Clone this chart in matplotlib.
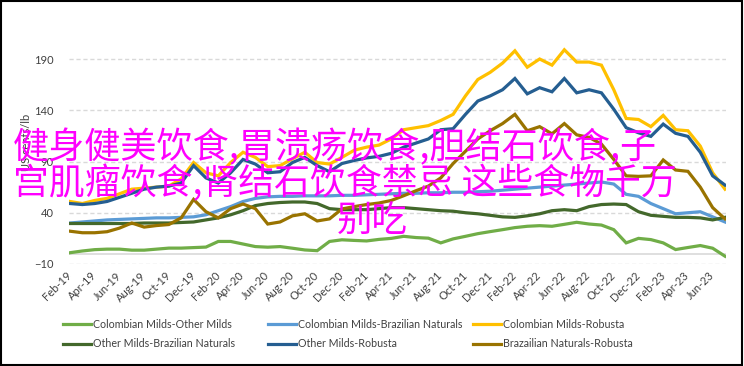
import matplotlib
matplotlib.use('Agg')
import matplotlib.pyplot as plt
import pandas as pd
from matplotlib.patches import Rectangle

# ---------------- data ----------------
months = pd.date_range('2019-02-01', periods=54, freq='MS').strftime('%b-%y').tolist()

col_other = [1, 2.7, 4, 4.5, 4.5, 3.5, 3.5, 4.5, 5.5, 5.5,
             6, 6.5, 12, 12, 9.5, 7, 6.4, 7, 5.4, 3.7,
             3, 12, 13.6, 13, 12.5, 14, 15, 17, 15.8, 15.2,
             10.6, 14.5, 17, 19.6, 21.6, 23.5, 25.5, 26.8, 27.4, 26.8,
             28.7, 30.7, 29, 28, 23.5, 10.6, 15, 13.8, 10.6, 4.1,
             6.1, 8, 5.4, -2.4]
col_braz = [30, 31, 32, 33, 33.5, 34, 34.5, 35, 35, 35.5,
            36, 38, 42, 46, 51, 54, 55.5, 56, 56, 56.5,
            56.5, 56.5, 57, 57, 57.5, 58, 58.5, 59, 59, 59.5,
            59.5, 60, 60, 60.5, 61, 62, 63, 64, 65, 66,
            67, 68, 69, 70, 68, 58, 56, 49, 44, 39,
            40, 41, 36, 31]
col_rob = [51, 49, 52, 54, 58.5, 63, 64, 65, 66, 73,
           89, 79, 76, 89, 99, 94, 85, 86, 92.6, 99,
           89, 87.5, 94, 101, 104, 106, 112, 121, 123, 125,
           130, 136, 154, 170, 177, 186, 198, 182, 190, 184,
           199, 187, 187, 184, 160, 132, 131, 124, 135, 121,
           120, 105, 79, 63]
other_braz = [29.5, 29.5, 29.5, 29.5, 29.5, 29.5, 30, 30, 30, 30.5,
              31, 33, 35, 38, 42, 47, 49, 50, 50.5, 50.5,
              49, 44, 43, 43, 43, 44, 45, 45, 44, 43,
              42, 41.5, 40, 39, 37.5, 36, 35.5, 37, 39, 42,
              43, 42, 46, 48, 48.5, 48, 41, 37.5, 36.5, 35.5,
              35.5, 35, 33, 35.5]
other_rob = [49, 48, 49, 51, 55, 59, 63, 65, 66, 69,
             86, 74, 69, 79, 92, 87.5, 79, 80, 89, 94,
             86, 80, 88, 91, 93.5, 95, 98, 104, 108, 112,
             121, 122, 136, 149, 154, 160, 171, 156, 162, 158,
             171, 157, 160, 157, 141, 123, 118, 114.5, 126.5, 117.5,
             114.5, 99, 76, 67]
braz_rob = [22, 20.5, 20.5, 21.5, 25, 30, 26, 27.5, 28.5, 35,
            53, 41, 35, 44, 48.5, 44, 29, 31, 37, 39,
            32, 34, 43.7, 46, 48, 49.5, 52, 56.6, 61.5, 66,
            74, 88, 100, 112, 120, 127, 136, 120, 124, 117,
            127, 116, 113.5, 107, 92, 76, 75.5, 76, 91.5, 81.7,
            80.4, 65, 45, 34]

series_names = ['Colombian Milds-Other Milds', 'Colombian Milds-Brazilian Naturals',
                'Colombian Milds-Robusta', 'Other Milds-Brazilian Naturals',
                'Other Milds-Robusta', 'Brazailian Naturals-Robusta']
series_values = [col_other, col_braz, col_rob, other_braz, other_rob, braz_rob]
series_colors = ['#70ad47', '#5b9bd5', '#ffc000', '#43682b', '#255e91', '#997300']

y_ticks = [-10, 40, 90, 140, 190]
y_label = 'US cents/lb'
overlay_lines = ['健身健美饮食,胃溃疡饮食,胆结石饮食,子',
                 '宫肌瘤饮食,肾结石饮食禁忌 这些食物千万',
                 '别吃']

# ---------------- figure ----------------
W, H = 744, 366
plt.rcParams['font.family'] = ['Lato', 'DejaVu Sans']
fig = plt.figure(figsize=(W / 100, H / 100), dpi=100)
fig.patch.set_facecolor('white')

def fx(px):
    return px / W

def fy(py):
    return 1 - py / H

ax_l, ax_r, ax_t, ax_b = 69, 726, 38.5, 264
ax = fig.add_axes([fx(ax_l), fy(ax_b), (ax_r - ax_l) / W, (ax_b - ax_t) / H])

x = list(range(len(months)))
lines = []
for name, vals, c in zip(series_names, series_values, series_colors):
    ln, = ax.plot(x, vals, color=c, lw=2.3, label=name, zorder=3,
                  solid_joinstyle='miter')
    lines.append(ln)

ax.set_xlim(-0.08, len(months) - 1 + 0.08)
ax.set_ylim(-10, 210)
ax.set_yticks(y_ticks)
ax.set_xticks(x[::2])
ax.set_xticklabels(months[::2], rotation=45, ha='right', va='center',
                   rotation_mode='anchor', fontsize=8, color='#404040')
ax.tick_params(axis='x', length=0, pad=7)
ax.tick_params(axis='y', length=0, pad=11, labelsize=8, labelcolor='#404040')
ax.yaxis.grid(True, linestyle=(0, (3, 2)), color='#d9d9d9', lw=1)
ax.set_axisbelow(True)
ax.axhline(0, color='#d9d9d9', lw=1.2, zorder=1)
for s in ax.spines.values():
    s.set_visible(False)

fig.text(fx(27), fy(142), y_label, rotation=90, fontsize=8, color='#404040',
         ha='center', va='center', zorder=2)

# ---------------- legend ----------------
legend_cols = [(63, [0, 3]), (268, [1, 4]), (473, [2, 5])]
for xpx, idxs in legend_cols:
    fig.legend([lines[i] for i in idxs], [series_names[i] for i in idxs],
               loc='center left', bbox_to_anchor=(fx(xpx), fy(334)),
               frameon=False, fontsize=7.7, handlelength=2.6, handletextpad=0.2,
               labelspacing=0.8, borderpad=0, borderaxespad=0,
               labelcolor='#404040')

# ---------------- overlay text (fitted to the reference widths) ----------------
ov_family = ['Noto Sans CJK SC', 'DejaVu Sans']
base_fs = 25.0
renderer = fig.canvas.get_renderer()
# (left px, right px, centre y px) of each line in the reference
ov_boxes = [(13, 657, 148), (13, 677, 184), (337, 408, 222)]
for txt, (l, r, yc) in zip(overlay_lines, ov_boxes):
    t = fig.text(fx(l), fy(yc), txt, ha='left', va='center', fontsize=base_fs,
                 color='#ff00ff', family=ov_family, zorder=10)
    wpx = t.get_window_extent(renderer).width
    fs = base_fs * (r - l) / wpx
    fs = min(max(fs, 23.0), 27.0)
    t.set_fontsize(fs)

# ---------------- border ----------------
fig.add_artist(Rectangle((fx(1), fy(365)), (741.5 - 1) / W, (365 - 1) / H,
                         transform=fig.transFigure, fill=False,
                         edgecolor='black', lw=1.5, zorder=20))

fig.savefig('out.png', dpi=100, facecolor='white')
